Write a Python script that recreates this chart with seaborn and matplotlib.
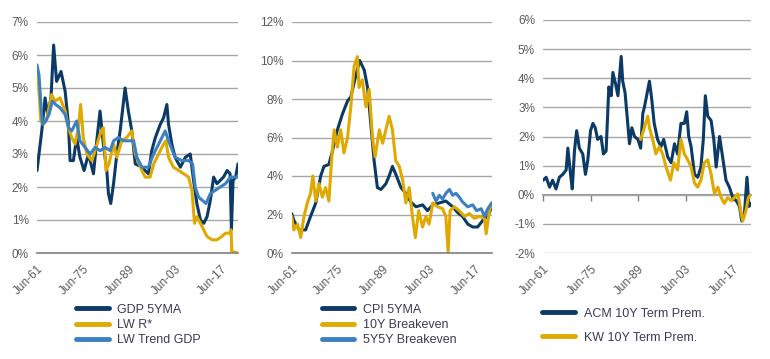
import numpy as np
import pandas as pd
import seaborn as sns
import matplotlib
matplotlib.use('Agg')
import matplotlib.pyplot as plt
from matplotlib.ticker import PercentFormatter

sns.set_style('white')
plt.rcParams['font.family'] = ['Liberation Sans', 'DejaVu Sans']
plt.rcParams['axes.unicode_minus'] = False

NAVY = '#0b3a66'
GOLD = '#e0a900'
LBLUE = '#3b80c2'
GRID = '#a8a8a8'
AXIS = '#808080'
TXT = '#5a5a5a'
LEG = '#3c3a55'

tick_years = [1961.45, 1975.45, 1989.45, 2003.45, 2017.45]
tick_labels = ['Jun-61', 'Jun-75', 'Jun-89', 'Jun-03', 'Jun-17']

# panel 1: growth
gdp_t = [1961.45, 1962.9, 1963.9, 1964.7, 1965.7, 1966.5, 1967.4, 1968.75, 1970.0, 1971.0,
         1971.5, 1972.5, 1973.5, 1974.5, 1975.75, 1977.1, 1978.6, 1979.6, 1980.6, 1981.6,
         1982.65, 1983.15, 1983.85, 1984.7, 1985.7, 1986.7, 1987.4, 1988.2, 1989.2, 1990.25,
         1991.3, 1993.3, 1995.3, 1996.3, 1997.4, 1998.9, 1999.9, 2000.9, 2001.4, 2002.4,
         2003.4, 2005.0, 2006.5, 2008.0, 2009.0, 2010.0, 2011.1, 2012.1, 2013.1, 2014.1,
         2015.1, 2016.1, 2017.1, 2018.1, 2019.2, 2020.1, 2020.5, 2021.0, 2021.8, 2022.5]
gdp_v = [2.5, 3.7, 4.7, 4.2, 4.7, 6.3, 5.2, 5.5, 4.9, 3.9,
         2.8, 2.8, 3.5, 2.9, 2.5, 3.0, 2.4, 3.4, 4.3, 3.3,
         2.5, 1.8, 1.5, 2.1, 3.0, 3.7, 4.3, 5.0, 4.3, 3.7,
         2.7, 2.6, 2.4, 3.1, 3.5, 3.9, 4.1, 4.5, 3.9, 3.3,
         2.9, 2.6, 2.9, 3.0, 2.2, 1.5, 1.0, 0.9, 1.1, 1.6,
         2.3, 2.1, 2.2, 2.3, 2.5, 2.4, 0.7, 2.2, 2.3, 2.7]

rstar_t = [1961.45, 1962.0, 1962.6, 1963.5, 1964.5, 1965.9, 1966.9, 1968.45, 1970.0, 1971.0,
           1972.0, 1973.0, 1974.0, 1974.7, 1975.5, 1976.6, 1978.1, 1979.1, 1980.6, 1981.6,
           1982.4, 1983.3, 1984.7, 1985.7, 1987.2, 1988.7, 1990.25, 1991.3, 1993.3, 1994.3,
           1995.8, 1996.9, 1998.4, 1999.9, 2000.6, 2001.4, 2002.9, 2004.5, 2006.0, 2007.5,
           2008.5, 2009.3, 2010.0, 2011.1, 2012.1, 2013.1, 2014.6, 2016.1, 2017.6, 2018.7,
           2019.9, 2020.4, 2020.6, 2021.5, 2022.5]
rstar_v = [5.6, 5.0, 4.0, 3.9, 4.1, 4.8, 4.6, 4.7, 4.3, 3.8,
           3.5, 3.3, 3.8, 4.5, 3.5, 3.0, 2.8, 3.1, 3.6, 3.8,
           2.5, 2.7, 3.3, 2.9, 3.4, 3.5, 3.7, 3.0, 2.5, 2.3,
           2.3, 2.7, 3.0, 3.3, 3.4, 2.9, 2.6, 2.5, 2.4, 2.3,
           1.9, 0.9, 1.1, 0.9, 0.7, 0.5, 0.4, 0.4, 0.5, 0.6,
           0.6, 0.7, 0.05, 0.02, 0.0]

trend_t = [1961.45, 1962.05, 1962.7, 1963.1, 1964.1, 1965.1, 1966.1, 1967.1, 1968.45, 1970.0,
           1971.0, 1972.0, 1973.5, 1974.5, 1976.05, 1977.6, 1979.1, 1980.6, 1982.1, 1983.7,
           1984.7, 1986.2, 1987.7, 1989.2, 1990.8, 1991.8, 1993.3, 1995.3, 1996.85, 1998.4,
           2000.4, 2001.4, 2003.4, 2005.5, 2007.5, 2008.7, 2009.5, 2010.5, 2011.6, 2012.8,
           2014.1, 2015.6, 2017.1, 2018.7, 2020.2, 2021.7, 2022.5]
trend_v = [5.7, 5.4, 4.4, 3.9, 4.0, 4.2, 4.6, 4.5, 4.4, 4.2,
           3.8, 3.7, 4.0, 3.4, 3.2, 3.0, 3.2, 3.1, 3.2, 3.1,
           3.4, 3.5, 3.4, 3.4, 3.4, 2.9, 2.6, 2.6, 3.0, 3.3,
           3.7, 3.4, 2.9, 2.8, 2.8, 2.7, 2.0, 1.7, 1.6, 1.5,
           1.8, 1.9, 2.0, 2.1, 2.3, 2.3, 2.3]

# panel 2: inflation
cpi_t = [1961.45, 1962.1, 1963.7, 1965.7, 1967.2, 1968.8, 1970.3, 1971.3, 1972.8, 1973.9,
         1975.4, 1976.9, 1978.5, 1979.5, 1981.0, 1982.2, 1983.6, 1984.6, 1985.6, 1986.6,
         1987.6, 1988.7, 1990.2, 1991.2, 1992.2, 1993.2, 1994.8, 1996.3, 1997.8, 1999.4,
         2001.4, 2002.9, 2004.5, 2006.5, 2008.5, 2010.6, 2012.1, 2013.6, 2015.2, 2016.7,
         2018.2, 2019.8, 2021.3, 2022.5]
cpi_v = [2.05, 1.7, 1.2, 1.2, 1.9, 2.6, 4.0, 4.5, 4.6, 5.3,
         6.4, 7.2, 7.9, 8.1, 9.2, 10.0, 9.5, 8.6, 6.7, 4.8,
         3.4, 3.3, 3.6, 4.0, 4.5, 4.1, 3.4, 3.1, 2.65, 2.4,
         2.5, 2.2, 2.5, 2.6, 2.7, 2.4, 2.1, 1.9, 1.5, 1.35,
         1.35, 1.7, 1.9, 2.4]

be10_t = [1961.45, 1962.1, 1963.2, 1964.2, 1965.2, 1966.2, 1967.2, 1967.9, 1968.8, 1969.8,
          1970.8, 1971.8, 1972.8, 1973.7, 1974.4, 1975.4, 1976.4, 1977.4, 1978.5, 1979.5,
          1980.5, 1981.5, 1982.0, 1983.0, 1984.1, 1985.1, 1986.1, 1986.9, 1988.2, 1989.2,
          1990.2, 1991.2, 1992.2, 1993.2, 1994.3, 1995.3, 1996.3, 1997.3, 1998.3, 1999.2,
          2000.2, 2001.4, 2002.4, 2003.4, 2004.5, 2006.0, 2007.5, 2008.5, 2009.2, 2009.8,
          2011.1, 2012.6, 2014.2, 2015.7, 2017.2, 2018.8, 2020.3, 2020.8, 2021.8, 2022.5]
be10_v = [1.9, 1.2, 1.5, 0.8, 1.9, 2.6, 3.1, 4.0, 2.7, 3.6,
          2.9, 3.4, 2.7, 5.0, 6.4, 5.5, 6.4, 5.2, 6.0, 7.6,
          9.7, 10.2, 8.6, 9.0, 7.6, 8.5, 6.0, 5.0, 6.4, 5.7,
          6.4, 7.1, 6.4, 4.8, 4.5, 3.8, 2.6, 3.4, 1.9, 0.8,
          2.2, 1.35, 1.9, 1.5, 2.6, 2.4, 2.3, 1.9, 0.05, 2.2,
          2.4, 2.2, 1.9, 2.05, 1.8, 1.9, 1.8, 1.0, 2.2, 2.6]

be55_t = [2004.5, 2005.5, 2006.5, 2007.5, 2008.5, 2009.6, 2010.6, 2011.6, 2012.6, 2013.6,
          2015.2, 2016.7, 2017.9, 2019.3, 2020.3, 2021.3, 2022.5]
be55_v = [3.1, 2.7, 3.0, 2.8, 3.1, 3.3, 3.0, 3.1, 2.9, 2.65,
          2.4, 2.5, 2.2, 2.3, 1.9, 2.3, 2.6]

# panel 3: term premia
acm_t = [1961.45, 1962.3, 1963.3, 1964.2, 1965.2, 1966.2, 1967.2, 1968.2, 1968.7, 1969.5,
         1970.0, 1970.65, 1971.3, 1972.1, 1973.1, 1973.9, 1974.6, 1975.4, 1976.1, 1976.8,
         1977.5, 1978.5, 1979.2, 1980.0, 1980.8, 1981.5, 1982.0, 1982.8, 1983.5, 1984.45,
         1984.9, 1985.6, 1986.2, 1986.9, 1987.6, 1988.4, 1989.4, 1990.2, 1990.85, 1991.3,
         1992.8, 1993.5, 1994.2, 1995.2, 1996.2, 1997.0, 1998.2, 1999.2, 2000.2, 2001.1,
         2002.1, 2003.1, 2003.8, 2004.4, 2005.1, 2006.1, 2007.05, 2008.0, 2008.7, 2009.3,
         2010.0, 2011.0, 2011.8, 2012.5, 2013.5, 2014.4, 2015.4, 2016.4, 2017.4, 2018.4,
         2019.4, 2020.05, 2020.85, 2021.6, 2022.2, 2022.7]
acm_v = [0.5, 0.6, 0.26, 0.5, 0.2, 0.6, 0.7, 0.85, 1.6, 0.7,
         0.2, 1.5, 2.2, 1.6, 1.4, 0.7, 1.2, 2.2, 2.45, 2.3,
         1.9, 2.0, 1.4, 1.5, 3.7, 3.4, 4.2, 3.8, 3.4, 4.75,
         3.9, 3.5, 2.7, 1.75, 2.3, 2.0, 1.9, 1.6, 2.8, 3.0,
         3.9, 3.25, 2.45, 1.9, 1.65, 1.9, 1.3, 1.1, 1.75, 1.4,
         2.45, 2.45, 2.85, 2.0, 1.65, 0.7, 0.6, 0.95, 1.9, 3.4,
         2.7, 2.55, 1.9, 0.95, 2.0, 1.3, 0.5, 0.26, -0.1, -0.2,
         -0.4, -0.9, -0.65, 0.6, -0.4, -0.3]

kw_t = [1990.2, 1991.3, 1992.3, 1992.8, 1993.75, 1994.7, 1995.7, 1996.7, 1997.7, 1999.0,
        2000.0, 2001.1, 2002.1, 2003.1, 2004.1, 2005.1, 2006.1, 2007.05, 2008.0, 2009.0,
        2010.0, 2011.0, 2012.0, 2013.0, 2014.0, 2014.9, 2015.9, 2016.9, 2017.9, 2018.9,
        2019.9, 2020.35, 2021.3, 2022.0, 2022.7]
kw_v = [1.9, 2.3, 2.7, 2.3, 1.9, 1.4, 1.65, 1.4, 0.95, 0.5,
        1.1, 0.85, 1.9, 1.4, 1.2, 0.95, 0.4, 0.26, 0.5, 1.1,
        1.2, 0.7, 0.03, 0.26, -0.1, -0.3, -0.1, -0.2, -0.1, 0.03,
        -0.65, -0.9, -0.55, -0.1, 0.0]

fig = plt.figure(figsize=(7.7, 3.59), dpi=100)

panels = [
    dict(rect=[37 / 770, 106 / 359, 201 / 770, 231 / 359], ylim=(0, 7), yticks=range(0, 8),
         series=[(gdp_t, gdp_v, NAVY, 'GDP 5YMA'), (rstar_t, rstar_v, GOLD, 'LW R*'),
                 (trend_t, trend_v, LBLUE, 'LW Trend GDP')],
         xlim=(1961.45, 2022.5), leg_x=0.195, leg_y=-0.22, spacing=0.25),
    dict(rect=[291.7 / 770, 106 / 359, 200 / 770, 231 / 359], ylim=(0, 12), yticks=range(0, 13, 2),
         series=[(cpi_t, cpi_v, NAVY, 'CPI 5YMA'), (be10_t, be10_v, GOLD, '10Y Breakeven'),
                 (be55_t, be55_v, LBLUE, '5Y5Y Breakeven')],
         xlim=(1961.45, 2022.5), leg_x=0.15, leg_y=-0.22, spacing=0.25),
    dict(rect=[543.3 / 770, 106 / 359, 207.4 / 770, 233 / 359], ylim=(-2, 6), yticks=range(-2, 7),
         series=[(acm_t, acm_v, NAVY, 'ACM 10Y Term Prem.'), (kw_t, kw_v, GOLD, 'KW 10Y Term Prem.')],
         xlim=(1961.45, 2022.7), leg_x=-0.005, leg_y=-0.235, spacing=0.95),
]

for p in panels:
    ax = fig.add_axes(p['rect'])
    for t, v, c, lab in p['series']:
        sns.lineplot(x=t, y=v, ax=ax, color=c, lw=2.2, label=lab)
    ax.set_xlim(*p['xlim'])
    ax.set_ylim(*p['ylim'])
    ax.set_yticks(list(p['yticks']))
    ax.yaxis.set_major_formatter(PercentFormatter(decimals=0))
    ax.grid(axis='y', color=GRID, lw=1.0)
    ax.set_axisbelow(True)
    for s in ['top', 'right', 'left']:
        ax.spines[s].set_visible(False)
    ax.set_xticks(tick_years)
    ax.set_xticklabels(tick_labels, rotation=45, ha='right', rotation_mode='anchor')
    ax.tick_params(axis='y', length=0, pad=6, labelsize=8.5, labelcolor=TXT)
    ax.tick_params(axis='x', labelsize=8.5, labelcolor=TXT, color=AXIS, length=4, width=1, direction='out')
    if p['ylim'][0] < 0:
        # zero line with tick marks, labels stay at the bottom
        ax.spines['bottom'].set_visible(False)
        ax.tick_params(axis='x', length=0, pad=7)
        frac = (0 - p['ylim'][0]) / (p['ylim'][1] - p['ylim'][0])
        sec = ax.secondary_xaxis(frac)
        sec.set_xticks(tick_years)
        sec.set_xticklabels([])
        sec.tick_params(axis='x', color=AXIS, length=4, width=1, direction='out')
        sec.spines['bottom'].set_color(AXIS)
        sec.spines['bottom'].set_linewidth(1.2)
    else:
        ax.spines['bottom'].set_color(AXIS)
        ax.spines['bottom'].set_linewidth(1.2)
        ax.tick_params(axis='x', pad=3)
    leg = ax.legend(loc='upper left', bbox_to_anchor=(p['leg_x'], p['leg_y']), frameon=False,
                    fontsize=9, handlelength=2.6, handletextpad=0.7, labelspacing=p['spacing'],
                    borderaxespad=0, borderpad=0)
    for h in leg.get_lines():
        h.set_linewidth(3.5)
    for txt in leg.get_texts():
        txt.set_color(LEG)

fig.savefig('out.png', dpi=100)
